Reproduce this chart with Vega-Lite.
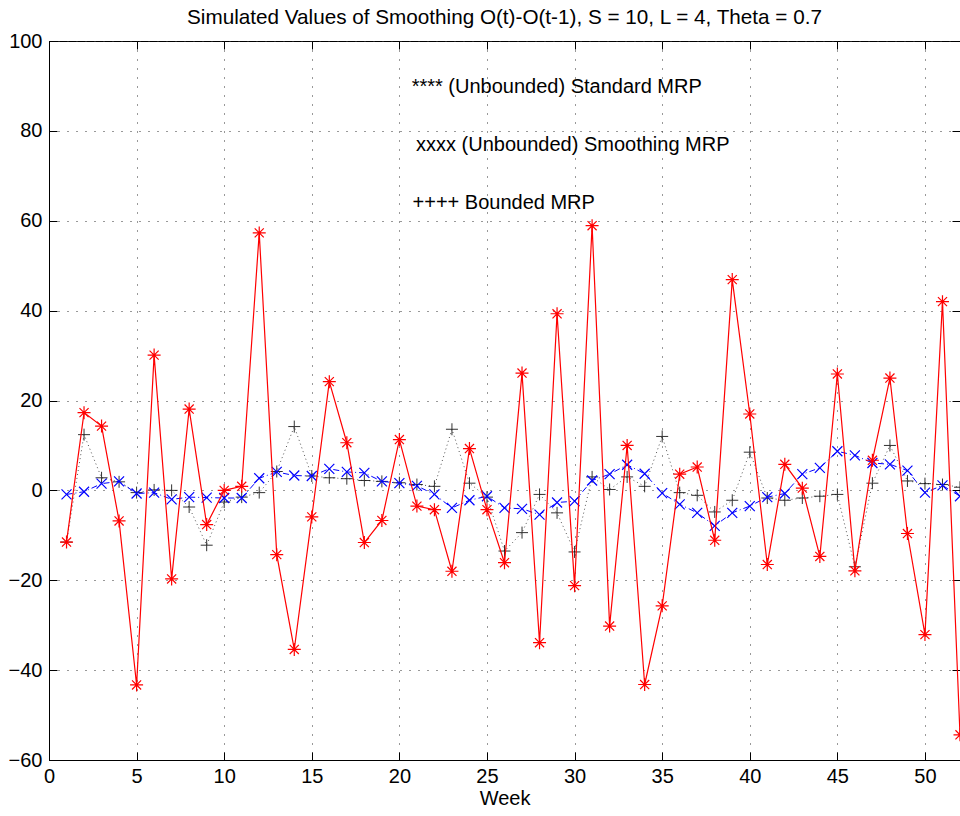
{
  "$schema": "https://vega.github.io/schema/vega-lite/v6.json",
  "width": 911,
  "height": 719,
  "autosize": "none",
  "padding": {"left": 49, "top": 41, "right": 0, "bottom": 56},
  "background": "white",
  "title": {
    "text": "Simulated Values of Smoothing O(t)-O(t-1), S = 10, L = 4, Theta = 0.7",
    "font": "Liberation Sans",
    "fontSize": 20.7,
    "fontWeight": "normal",
    "color": "black",
    "anchor": "middle",
    "offset": 2
  },
  "config": {
    "view": {"stroke": "black", "strokeWidth": 1},
    "axis": {
      "labelFont": "Liberation Sans",
      "labelFontSize": 20,
      "labelColor": "black",
      "titleFont": "Liberation Sans",
      "titleFontSize": 20,
      "titleFontWeight": "normal",
      "titleColor": "black",
      "domainColor": "black",
      "tickColor": "black",
      "tickSize": -8,
      "gridColor": "#333333",
      "gridDash": [1, 8],
      "gridOpacity": 1,
      "gridWidth": 1
    }
  },
  "resolve": {"axis": {"x": "independent", "y": "independent"}},
  "data": {
    "values": [
      {"week": 1, "std": -11.5, "smooth": -0.9, "bounded": -11.5},
      {"week": 2, "std": 17.3, "smooth": -0.3, "bounded": 12.4},
      {"week": 3, "std": 14.3, "smooth": 1.5, "bounded": 2.8},
      {"week": 4, "std": -6.8, "smooth": 2.0, "bounded": 1.9},
      {"week": 5, "std": -43.3, "smooth": -0.7, "bounded": -0.5},
      {"week": 6, "std": 30.1, "smooth": -0.5, "bounded": 0.1},
      {"week": 7, "std": -19.7, "smooth": -2.0, "bounded": 0},
      {"week": 8, "std": 18.1, "smooth": -1.5, "bounded": -3.7},
      {"week": 9, "std": -7.6, "smooth": -1.6, "bounded": -12.2},
      {"week": 10, "std": 0, "smooth": -1.7, "bounded": -2.6},
      {"week": 11, "std": 0.9, "smooth": -1.7, "bounded": -1.5},
      {"week": 12, "std": 57.3, "smooth": 2.7, "bounded": -0.5},
      {"week": 13, "std": -14.3, "smooth": 4.1, "bounded": 4.2},
      {"week": 14, "std": -35.4, "smooth": 3.3, "bounded": 14.2},
      {"week": 15, "std": -5.9, "smooth": 3.2, "bounded": 3.2},
      {"week": 16, "std": 24.2, "smooth": 4.8, "bounded": 2.8},
      {"week": 17, "std": 10.6, "smooth": 4.1, "bounded": 2.6},
      {"week": 18, "std": -11.6, "smooth": 3.9, "bounded": 2.2},
      {"week": 19, "std": -6.7, "smooth": 2.0, "bounded": 2.0},
      {"week": 20, "std": 11.3, "smooth": 1.6, "bounded": 1.7},
      {"week": 21, "std": -3.5, "smooth": 1.0, "bounded": 1.3},
      {"week": 22, "std": -4.3, "smooth": -0.9, "bounded": 0.9},
      {"week": 23, "std": -18.0, "smooth": -3.9, "bounded": 13.6},
      {"week": 24, "std": 9.3, "smooth": -2.2, "bounded": 1.6},
      {"week": 25, "std": -4.3, "smooth": -1.3, "bounded": -1.5},
      {"week": 26, "std": -16.1, "smooth": -3.9, "bounded": -13.5},
      {"week": 27, "std": 26.1, "smooth": -4.1, "bounded": -9.4},
      {"week": 28, "std": -33.9, "smooth": -5.4, "bounded": -0.9},
      {"week": 29, "std": 39.3, "smooth": -2.7, "bounded": -5.0},
      {"week": 30, "std": -21.2, "smooth": -2.4, "bounded": -13.7},
      {"week": 31, "std": 58.9, "smooth": 2.2, "bounded": 3.0},
      {"week": 32, "std": -30.2, "smooth": 3.6, "bounded": 0.2},
      {"week": 33, "std": 10.0, "smooth": 5.7, "bounded": 3.0},
      {"week": 34, "std": -43.2, "smooth": 3.7, "bounded": 0.9},
      {"week": 35, "std": -25.7, "smooth": -0.6, "bounded": 12.0},
      {"week": 36, "std": 3.6, "smooth": -3.1, "bounded": -0.5},
      {"week": 37, "std": 5.2, "smooth": -5.0, "bounded": -1.1},
      {"week": 38, "std": -11.1, "smooth": -7.9, "bounded": -4.8},
      {"week": 39, "std": 46.9, "smooth": -5.0, "bounded": -2.2},
      {"week": 40, "std": 17.0, "smooth": -3.5, "bounded": 8.5},
      {"week": 41, "std": -16.5, "smooth": -1.5, "bounded": -1.7},
      {"week": 42, "std": 5.8, "smooth": -0.7, "bounded": -2.2},
      {"week": 43, "std": 0.5, "smooth": 3.6, "bounded": -1.7},
      {"week": 44, "std": -14.7, "smooth": 5.0, "bounded": -1.3},
      {"week": 45, "std": 25.9, "smooth": 8.7, "bounded": -0.9},
      {"week": 46, "std": -17.9, "smooth": 7.8, "bounded": -17.0},
      {"week": 47, "std": 6.7, "smooth": 6.1, "bounded": 1.6},
      {"week": 48, "std": 25.0, "smooth": 5.8, "bounded": 10.0},
      {"week": 49, "std": -9.6, "smooth": 4.4, "bounded": 2.1},
      {"week": 50, "std": -32.1, "smooth": -0.5, "bounded": 1.5},
      {"week": 51, "std": 42.0, "smooth": 1.1, "bounded": 1.3},
      {"week": 52, "std": -54.4, "smooth": -1.3, "bounded": 0.7}
    ]
  },
  "layer": [
    {
      "mark": {"type": "line", "color": "#555555", "strokeWidth": 1, "strokeDash": [1, 3], "clip": true},
      "encoding": {
        "x": {
          "field": "week", "type": "quantitative",
          "scale": {"domain": [0, 52], "nice": false, "zero": false},
          "axis": {"values": [0, 5, 10, 15, 20, 25, 30, 35, 40, 45, 50], "title": "Week", "labelPadding": 14, "titlePadding": 2, "labelFlush": false}
        },
        "y": {
          "field": "bounded", "type": "quantitative",
          "scale": {"domain": [-60, 100], "nice": false},
          "axis": {"values": [-60, -40, -20, 0, 20, 40, 60, 80, 100], "title": null, "labelPadding": 15, "labelFlush": false}
        }
      }
    },
    {
      "mark": {"type": "point", "shape": "M-1,0L1,0M0,-1L0,1", "filled": false, "color": "black", "strokeWidth": 1, "size": 144, "opacity": 0.8, "clip": true},
      "encoding": {
        "x": {"field": "week", "type": "quantitative", "axis": {"orient": "top", "values": [0, 5, 10, 15, 20, 25, 30, 35, 40, 45, 50], "labels": false, "title": null, "grid": false, "domain": false}},
        "y": {"field": "bounded", "type": "quantitative", "axis": {"orient": "right", "values": [-60, -40, -20, 0, 20, 40, 60, 80, 100], "labels": false, "title": null, "grid": false, "domain": false}}
      }
    },
    {
      "mark": {"type": "line", "color": "#0000ff", "strokeWidth": 1, "strokeDash": [6, 3, 1, 3], "clip": true},
      "encoding": {"x": {"field": "week", "type": "quantitative", "axis": null}, "y": {"field": "smooth", "type": "quantitative", "axis": null}}
    },
    {
      "mark": {"type": "point", "shape": "M-1,-1L1,1M-1,1L1,-1", "filled": false, "color": "#0000ff", "strokeWidth": 1.2, "size": 100, "opacity": 1, "clip": true},
      "encoding": {"x": {"field": "week", "type": "quantitative", "axis": null}, "y": {"field": "smooth", "type": "quantitative", "axis": null}}
    },
    {
      "mark": {"type": "line", "color": "#ff0000", "strokeWidth": 1.2, "clip": true},
      "encoding": {"x": {"field": "week", "type": "quantitative", "axis": null}, "y": {"field": "std", "type": "quantitative", "axis": null}}
    },
    {
      "mark": {"type": "point", "shape": "M-1,0L1,0M0,-1L0,1M-0.7,-0.7L0.7,0.7M-0.7,0.7L0.7,-0.7", "filled": false, "color": "#ff0000", "strokeWidth": 1.2, "size": 169, "opacity": 1, "clip": true},
      "encoding": {"x": {"field": "week", "type": "quantitative", "axis": null}, "y": {"field": "std", "type": "quantitative", "axis": null}}
    },
    {
      "data": {"values": [
        {"label": "**** (Unbounded) Standard MRP", "lx": 20.7, "ly": 89.7},
        {"label": "xxxx (Unbounded) Smoothing MRP", "lx": 20.95, "ly": 76.9},
        {"label": "++++ Bounded MRP", "lx": 20.75, "ly": 64.0}
      ]},
      "mark": {"type": "text", "align": "left", "baseline": "middle", "font": "Liberation Sans", "fontSize": 20, "color": "black"},
      "encoding": {
        "x": {"field": "lx", "type": "quantitative", "axis": null},
        "y": {"field": "ly", "type": "quantitative", "axis": null},
        "text": {"field": "label"}
      }
    }
  ]
}
